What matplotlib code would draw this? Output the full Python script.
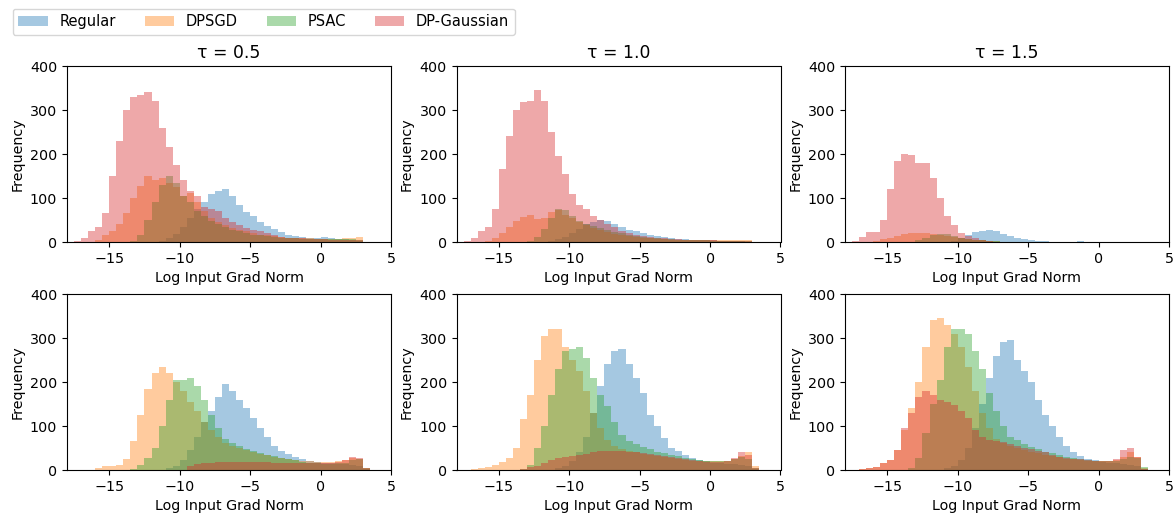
import numpy as np
import matplotlib
matplotlib.use("Agg")
import matplotlib.pyplot as plt

# bin heights on a 0.5-wide grid from -17.5 to 3.5 (42 bins)
methods = ["Regular", "DPSGD", "PSAC", "DP-Gaussian"]
taus = ["0.5", "1.0", "1.5"]

# ---- top row ----
top05_regular = [0, 0, 0, 0, 0, 0, 0, 0, 0, 0,
                 0, 0, 3, 8, 18, 35, 55, 75, 90, 108,
                 115, 120, 105, 85, 68, 58, 45, 37, 30, 22,
                 17, 14, 12, 10, 10, 12, 9, 7, 6, 5,
                 3, 0]
top05_dpsgd = [0, 0, 0, 5, 15, 25, 40, 65, 100, 128,
               150, 142, 145, 135, 125, 105, 112, 90, 70, 55,
               45, 38, 32, 28, 24, 20, 17, 15, 13, 11,
               10, 9, 8, 8, 7, 7, 7, 7, 8, 10,
               12, 0]
top05_psac = [0, 0, 0, 0, 0, 0, 0, 0, 3, 15,
              50, 90, 130, 150, 135, 105, 90, 70, 58, 48,
              40, 34, 28, 24, 20, 17, 15, 13, 11, 10,
              9, 8, 7, 7, 6, 6, 6, 6, 6, 7,
              5, 0]
top05_gauss = [3, 10, 25, 35, 65, 150, 230, 300, 330, 335,
               340, 320, 260, 215, 175, 140, 115, 105, 80, 75,
               70, 55, 45, 38, 32, 28, 24, 20, 15, 12,
               10, 9, 8, 7, 6, 6, 5, 5, 5, 5,
               4, 0]

top10_regular = [0, 0, 0, 0, 0, 0, 0, 0, 0, 0,
                 0, 0, 2, 6, 12, 20, 30, 40, 46, 50,
                 48, 40, 34, 28, 24, 20, 17, 14, 11, 9,
                 7, 6, 5, 4, 4, 4, 3, 3, 2, 2,
                 1, 0]
top10_dpsgd = [0, 0, 0, 3, 10, 20, 33, 48, 57, 62,
               52, 55, 68, 72, 62, 55, 45, 38, 32, 27,
               23, 19, 16, 13, 11, 9, 8, 7, 6, 5,
               5, 4, 4, 4, 4, 4, 4, 4, 4, 4,
               4, 0]
top10_psac = [0, 0, 0, 0, 0, 0, 0, 0, 0, 3,
              12, 30, 55, 75, 72, 60, 48, 40, 36, 31,
              27, 23, 20, 16, 13, 11, 9, 8, 7, 6,
              5, 5, 4, 4, 4, 3, 3, 3, 3, 3,
              2, 0]
top10_gauss = [3, 10, 25, 35, 75, 165, 240, 300, 318, 320,
               345, 320, 250, 195, 155, 110, 85, 75, 58, 50,
               42, 33, 26, 21, 17, 14, 11, 9, 8, 7,
               6, 5, 5, 4, 4, 4, 3, 3, 3, 3,
               2, 0]

top15_regular = [0, 0, 0, 0, 0, 0, 0, 0, 0, 0,
                 0, 0, 0, 0, 3, 8, 15, 22, 25, 27,
                 24, 18, 13, 9, 6, 4, 3, 2, 1, 1,
                 1, 1, 2, 0, 0, 0, 0, 0, 0, 0,
                 0, 0]
top15_dpsgd = [0, 0, 0, 3, 6, 10, 14, 18, 20, 21,
               20, 18, 16, 14, 11, 9, 7, 5, 4, 3,
               2, 1, 0, 0, 0, 0, 0, 0, 0, 0,
               0, 0, 0, 0, 0, 0, 0, 0, 0, 0,
               0, 0]
top15_psac = [0, 0, 0, 0, 0, 0, 0, 0, 0, 4,
              10, 15, 18, 18, 14, 10, 7, 5, 4, 3,
              2, 1, 0, 0, 0, 0, 0, 0, 0, 0,
              0, 0, 0, 0, 0, 0, 0, 0, 0, 0,
              0, 0]
top15_gauss = [2, 12, 22, 22, 50, 120, 185, 200, 198, 180,
               180, 145, 100, 60, 38, 20, 14, 8, 4, 2,
               1, 0, 0, 0, 0, 0, 0, 0, 0, 0,
               0, 0, 0, 0, 0, 0, 0, 0, 0, 0,
               0, 0]

# ---- bottom row ----
bot05_regular = [0, 0, 0, 0, 0, 0, 0, 0, 0, 0,
                 0, 0, 0, 4, 10, 22, 45, 75, 110, 135,
                 165, 195, 180, 160, 140, 118, 95, 75, 55, 44,
                 36, 30, 25, 21, 18, 16, 15, 14, 13, 11,
                 9, 3]
bot05_dpsgd = [0, 0, 0, 5, 8, 9, 12, 25, 65, 125,
               185, 220, 235, 220, 200, 180, 155, 135, 108, 90,
               75, 62, 55, 50, 45, 40, 37, 33, 30, 27,
               25, 23, 21, 20, 19, 19, 19, 20, 22, 27,
               25, 5]
bot05_psac = [0, 0, 0, 0, 0, 0, 0, 0, 3, 12,
              28, 50, 100, 160, 205, 205, 210, 190, 160, 125,
              95, 70, 62, 55, 48, 43, 39, 35, 31, 28,
              25, 22, 19, 17, 15, 14, 14, 15, 17, 22,
              25, 5]
bot05_gauss = [0, 0, 0, 0, 0, 0, 0, 0, 0, 0,
               0, 0, 0, 0, 0, 0, 8, 14, 16, 17,
               18, 18, 18, 18, 18, 18, 18, 18, 17, 17,
               17, 16, 16, 16, 16, 16, 17, 18, 22, 30,
               28, 5]

bot10_regular = [0, 0, 0, 0, 0, 0, 0, 0, 0, 0,
                 0, 0, 0, 4, 10, 20, 40, 75, 130, 190,
                 240, 270, 275, 240, 210, 175, 125, 100, 72, 50,
                 43, 34, 28, 23, 20, 17, 15, 14, 13, 12,
                 9, 3]
bot10_dpsgd = [0, 2, 4, 6, 12, 18, 28, 50, 115, 170,
               250, 305, 320, 320, 280, 250, 225, 180, 130, 95,
               68, 55, 48, 44, 40, 37, 34, 32, 29, 27,
               25, 23, 21, 20, 20, 20, 20, 21, 24, 32,
               40, 10]
bot10_psac = [0, 0, 0, 0, 0, 0, 0, 0, 3, 12,
              50, 100, 170, 230, 270, 275, 280, 255, 210, 170,
              145, 110, 80, 66, 60, 52, 47, 42, 38, 35,
              32, 28, 25, 23, 21, 20, 20, 21, 24, 29,
              25, 5]
bot10_gauss = [0, 0, 0, 0, 0, 0, 0, 0, 3, 6,
               10, 16, 22, 27, 30, 32, 34, 36, 40, 43,
               44, 44, 43, 41, 40, 39, 37, 34, 32, 30,
               27, 25, 23, 21, 19, 18, 18, 20, 28, 40,
               35, 5]

bot15_regular = [0, 0, 0, 0, 0, 0, 0, 0, 0, 0,
                 0, 0, 0, 4, 10, 22, 50, 95, 150, 210,
                 260, 290, 295, 250, 225, 200, 160, 125, 100, 75,
                 55, 42, 32, 26, 22, 19, 17, 15, 13, 11,
                 8, 2]
bot15_dpsgd = [0, 2, 4, 7, 15, 22, 45, 90, 140, 200,
               280, 340, 345, 330, 310, 280, 235, 180, 130, 95,
               70, 62, 55, 50, 46, 42, 38, 35, 32, 29,
               26, 24, 22, 21, 20, 20, 20, 22, 30, 40,
               30, 5]
bot15_psac = [0, 0, 0, 0, 0, 0, 0, 0, 5, 28,
              85, 150, 205, 280, 320, 320, 310, 270, 230, 175,
              135, 100, 76, 68, 60, 52, 47, 42, 38, 34,
              30, 27, 25, 23, 21, 20, 20, 21, 24, 29,
              28, 6]
bot15_gauss = [0, 2, 4, 7, 15, 22, 45, 95, 130, 165,
               180, 170, 160, 155, 148, 135, 118, 92, 75, 68,
               66, 63, 58, 55, 50, 47, 43, 40, 35, 30,
               28, 26, 25, 23, 21, 21, 21, 25, 45, 50,
               30, 3]

rows = [
    [[top05_regular, top05_dpsgd, top05_psac, top05_gauss],
     [top10_regular, top10_dpsgd, top10_psac, top10_gauss],
     [top15_regular, top15_dpsgd, top15_psac, top15_gauss]],
    [[bot05_regular, bot05_dpsgd, bot05_psac, bot05_gauss],
     [bot10_regular, bot10_dpsgd, bot10_psac, bot10_gauss],
     [bot15_regular, bot15_dpsgd, bot15_psac, bot15_gauss]],
]

edges = np.arange(-17.5, 3.51, 0.5)
centers = (edges[:-1] + edges[1:]) / 2
colors = ["C0", "C1", "C2", "C3"]

plt.rcParams["font.size"] = 10.3

W, H = 1175, 518
fig = plt.figure(figsize=(W / 100, H / 100), dpi=100)

lefts = [67, 456.5, 845]
tops = [66, 294]
aw, ah = 324, 176

for r in range(2):
    for c in range(3):
        ax = fig.add_axes([lefts[c] / W, 1 - (tops[r] + ah) / H, aw / W, ah / H])
        for k, vals in enumerate(rows[r][c]):
            ax.hist(centers, bins=edges, weights=vals, color=colors[k],
                    alpha=0.4, histtype="stepfilled", linewidth=0,
                    label=methods[k])
        ax.set_xlim(-18, 5)
        ax.set_ylim(0, 400)
        ax.set_xticks([-15, -10, -5, 0, 5])
        ax.set_yticks([0, 100, 200, 300, 400])
        ax.set_xlabel("Log Input Grad Norm")
        ax.set_ylabel("Frequency")
        if r == 0:
            ax.set_title(f"τ = {taus[c]}", fontsize=12.4)
        if r == 0 and c == 0:
            handles, labels = ax.get_legend_handles_labels()

fig.legend(handles, labels, loc="upper left", ncol=4, fontsize=10.5,
           bbox_to_anchor=(12.5 / W, 1 - 8.5 / H), borderaxespad=0)

fig.savefig("out.png", dpi=100)
